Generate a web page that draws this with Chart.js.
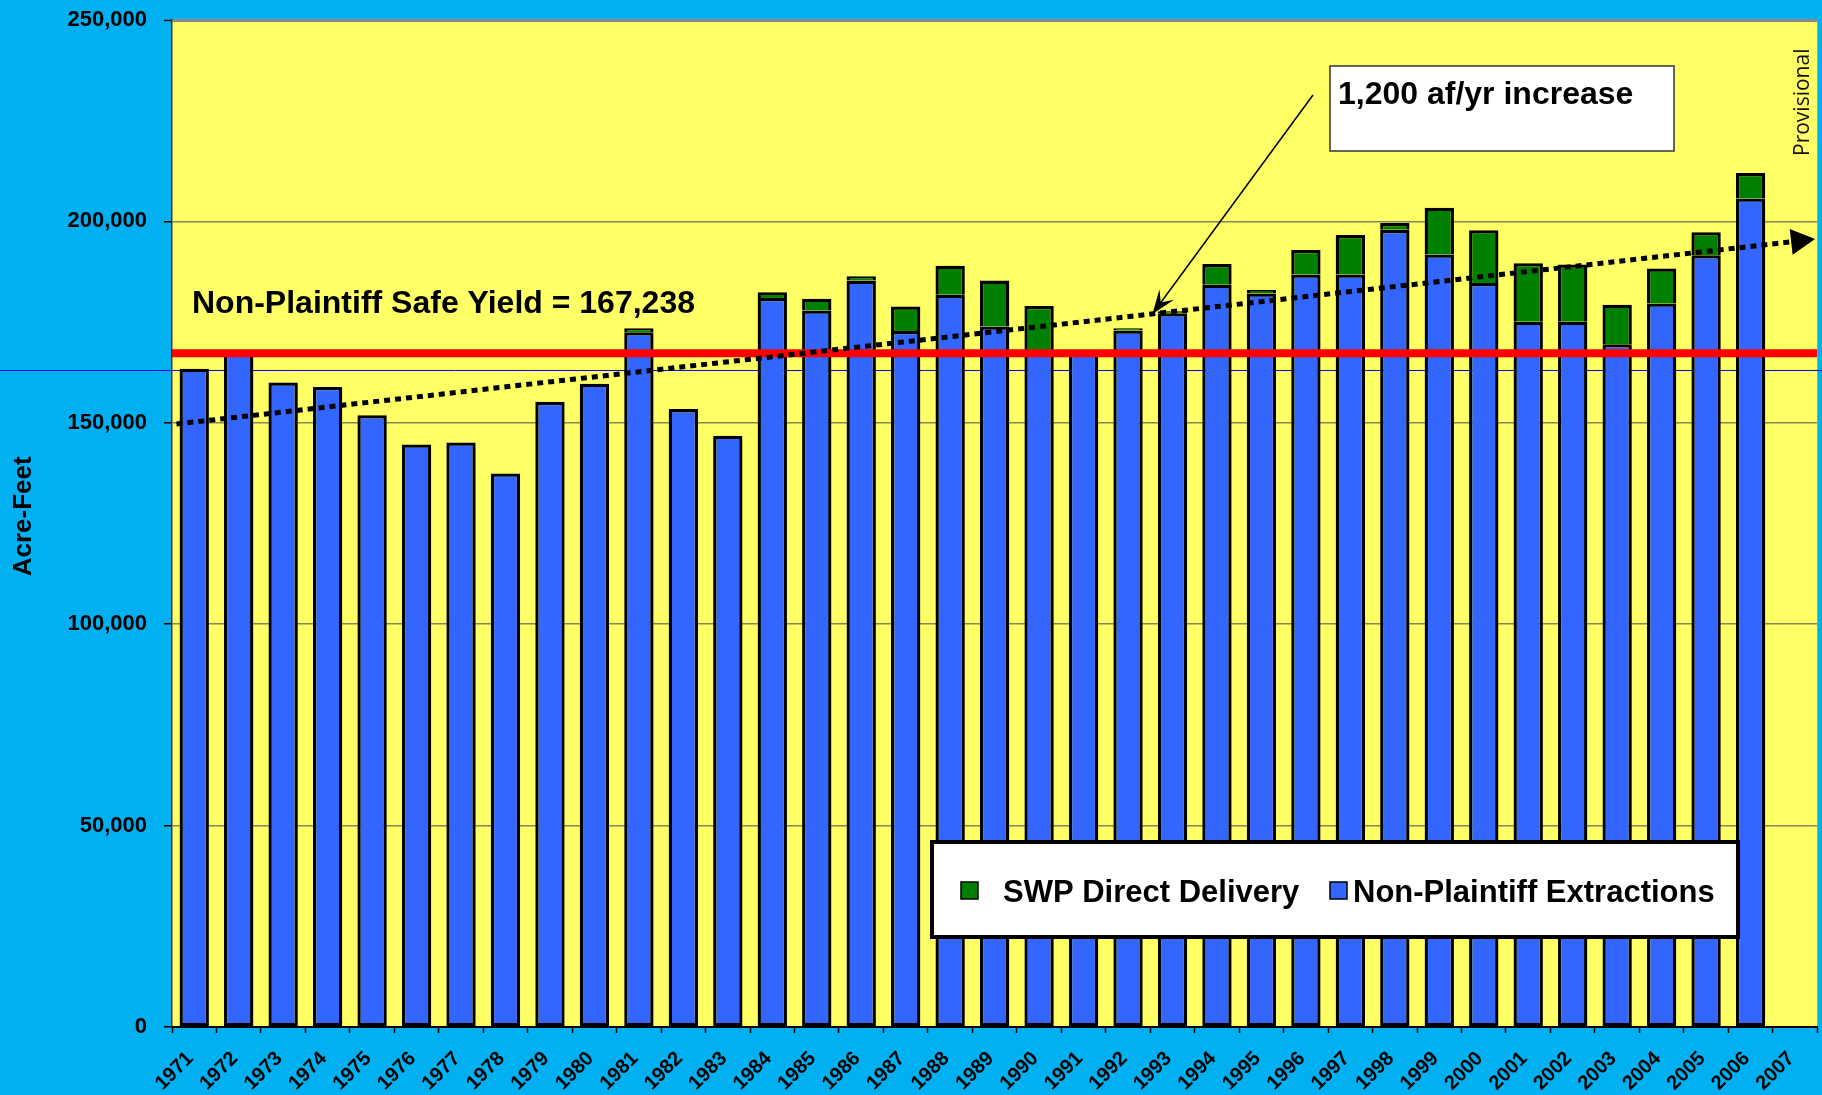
<!DOCTYPE html>
<html>
<head>
<meta charset="utf-8">
<title>Non-Plaintiff Extractions</title>
<script src="https://cdn.jsdelivr.net/npm/chart.js@4.4.1/dist/chart.umd.min.js"></script>
<style>
  html, body { margin: 0; padding: 0; background: #00b0f0; }
  #dataChart { display: block; }
</style>
</head>
<body>
<canvas id="dataChart" width="1822" height="1095"></canvas>
<script>
// Water years on the category axis
const years = [
  "1971", "1972", "1973", "1974", "1975", "1976", "1977", "1978", "1979", "1980",
  "1981", "1982", "1983", "1984", "1985", "1986", "1987", "1988", "1989", "1990",
  "1991", "1992", "1993", "1994", "1995", "1996", "1997", "1998", "1999", "2000",
  "2001", "2002", "2003", "2004", "2005", "2006", "2007",
];

// Non-Plaintiff extractions (acre-feet)
const extractions = [
  163400, 167700, 160000, 158900, 151900, 144600, 145100, 137400, 155200, 159700,
  172500, 153400, 146800, 181000, 177900, 185300, 172800, 181800, 173900, 167400,
  167800, 172900, 177200, 184300, 182100, 186800, 186800, 197900, 191800, 184700,
  175100, 175100, 169500, 179600, 191600, 205700, null,
];

// SWP direct delivery stacked on top (acre-feet)
const swpDelivery = [
  null, null, null, null, null, null, null, null, null, null,
  1000, null, null, 1400, 2900, 1100, 6100, 7200, 11400, 11600,
  null, 600, 500, 5100, 900, 6100, 9800, 1700, 11600, 13100,
  14500, 14200, 9800, 8700, 5700, 6300, null,
];

// y axis tick values
const yTickValues = [0, 50000, 100000, 150000, 200000, 250000];

// Safe yield level and the thin reference line just under it
const safeYield = 167238;
const referenceLevel = 163000;

// Trend line ends (category index, acre-feet)
const trendX = [-0.4, 36.45];
const trendY = [149700, 195600];

// Where on the trend the callout arrow points (category index)
const calloutIndex = 21.55;

const FONT = "'Liberation Sans', Arial, sans-serif";
const SKY = "#00b0f0";
const PLOT_BG = "#ffff66";
const BLUE = "#3366ff";
const GREEN = "#008000";
const RED = "#ff0000";

// Backgrounds, reference line, labels, callout and legend
const decorPlugin = {
  id: "decor",
  beforeDraw(chart) {
    const { ctx, chartArea: a } = chart;
    ctx.save();
    ctx.fillStyle = SKY;
    ctx.fillRect(0, 0, chart.width, chart.height);
    ctx.fillStyle = PLOT_BG;
    ctx.fillRect(a.left, a.top, a.right - a.left, a.bottom - a.top);
    ctx.restore();
  },
  beforeDatasetsDraw(chart) {
    const { ctx } = chart;
    const y = Math.round(chart.scales.y.getPixelForValue(referenceLevel)) + 0.5;
    ctx.save();
    ctx.strokeStyle = "#0000ff";
    ctx.lineWidth = 1;
    ctx.beginPath();
    ctx.moveTo(0, y);
    ctx.lineTo(chart.width, y);
    ctx.stroke();
    ctx.restore();
  },
  afterDatasetsDraw(chart) {
    const { ctx, chartArea: a } = chart;
    const xs = chart.scales.xLine;
    const ys = chart.scales.y;

    // arrowhead at the end of the trend line
    const p0 = { x: xs.getPixelForValue(trendX[0]), y: ys.getPixelForValue(trendY[0]) };
    const p1 = { x: xs.getPixelForValue(trendX[1]), y: ys.getPixelForValue(trendY[1]) };
    let dx = p1.x - p0.x, dy = p1.y - p0.y;
    let len = Math.hypot(dx, dy);
    let ux = dx / len, uy = dy / len;
    ctx.save();
    ctx.fillStyle = "#000";
    ctx.beginPath();
    ctx.moveTo(p1.x, p1.y);
    ctx.lineTo(p1.x - ux * 24 - uy * 13, p1.y - uy * 24 + ux * 13);
    ctx.lineTo(p1.x - ux * 24 + uy * 13, p1.y - uy * 24 - ux * 13);
    ctx.closePath();
    ctx.fill();

    // safe yield label
    ctx.fillStyle = "#000";
    ctx.font = "bold 32px " + FONT;
    ctx.textAlign = "left";
    ctx.textBaseline = "alphabetic";
    ctx.fillText("Non-Plaintiff Safe Yield = 167,238", a.left + 20, ys.getPixelForValue(safeYield) - 40);

    // callout box
    const box = { x: 1330, y: 66, w: 344, h: 85 };
    ctx.fillStyle = "#ffffff";
    ctx.fillRect(box.x, box.y, box.w, box.h);
    ctx.strokeStyle = "#333";
    ctx.lineWidth = 1.5;
    ctx.strokeRect(box.x, box.y, box.w, box.h);
    ctx.fillStyle = "#000";
    ctx.fillText("1,200 af/yr increase", box.x + 8, box.y + 38);

    // callout arrow to the trend line
    const t = (calloutIndex - trendX[0]) / (trendX[1] - trendX[0]);
    const tip = {
      x: xs.getPixelForValue(calloutIndex),
      y: ys.getPixelForValue(trendY[0] + t * (trendY[1] - trendY[0])),
    };
    const start = { x: box.x - 17, y: box.y + 29 };
    dx = tip.x - start.x; dy = tip.y - start.y;
    len = Math.hypot(dx, dy);
    ux = dx / len; uy = dy / len;
    ctx.strokeStyle = "#000";
    ctx.lineWidth = 1.5;
    ctx.beginPath();
    ctx.moveTo(start.x, start.y);
    ctx.lineTo(tip.x - ux * 12, tip.y - uy * 12);
    ctx.stroke();
    ctx.beginPath();
    ctx.moveTo(tip.x, tip.y);
    ctx.lineTo(tip.x - ux * 24 - uy * 9, tip.y - uy * 24 + ux * 9);
    ctx.lineTo(tip.x - ux * 14, tip.y - uy * 14);
    ctx.lineTo(tip.x - ux * 24 + uy * 9, tip.y - uy * 24 - ux * 9);
    ctx.closePath();
    ctx.fill();

    // legend
    const lg = { x: 932, y: 842, w: 806, h: 95 };
    ctx.fillStyle = "#ffffff";
    ctx.fillRect(lg.x, lg.y, lg.w, lg.h);
    ctx.strokeStyle = "#000";
    ctx.lineWidth = 4;
    ctx.strokeRect(lg.x, lg.y, lg.w, lg.h);
    const items = [
      { ds: chart.data.datasets[1], sx: 961, tx: 1003 },
      { ds: chart.data.datasets[0], sx: 1330, tx: 1353 },
    ];
    ctx.font = "bold 31px " + FONT;
    items.forEach((it) => {
      ctx.fillStyle = it.ds.backgroundColor;
      ctx.fillRect(it.sx, 882, 17, 17);
      ctx.strokeStyle = "#000";
      ctx.lineWidth = 1.5;
      ctx.strokeRect(it.sx, 882, 17, 17);
      ctx.fillStyle = "#000";
      ctx.fillText(it.ds.label, it.tx, 902);
    });

    // provisional note
    ctx.font = "21px 'Open Sans', sans-serif";
    ctx.fillStyle = "#111";
    ctx.translate(1809, 156);
    ctx.rotate(-Math.PI / 2);
    ctx.fillText("Provisional", 0, 0);
    ctx.restore();
  },
};

function initializeChart() {
  const ctx = document.getElementById("dataChart").getContext("2d");
  return new Chart(ctx, {
    type: "bar",
    data: {
      labels: years,
      datasets: [
        {
          label: "Non-Plaintiff Extractions",
          data: extractions,
          backgroundColor: BLUE,
          borderColor: "#000",
          borderWidth: 3.3,
          borderSkipped: false,
          stack: "total",
          grouped: false,
          order: 2,
          barPercentage: 0.66,
          categoryPercentage: 1,
        },
        {
          label: "SWP Direct Delivery",
          data: swpDelivery,
          backgroundColor: GREEN,
          borderColor: "#000",
          borderWidth: 3.3,
          borderSkipped: "bottom",
          stack: "total",
          grouped: false,
          order: 2,
          barPercentage: 0.66,
          categoryPercentage: 1,
        },
        {
          type: "line",
          label: "Safe Yield",
          data: [{ x: -0.5, y: safeYield }, { x: 36.5, y: safeYield }],
          xAxisID: "xLine",
          stack: "safe",
          borderColor: RED,
          borderWidth: 8,
          pointRadius: 0,
          order: 1,
        },
        {
          type: "line",
          label: "Trend",
          data: trendX.map((x, i) => ({ x: x, y: trendY[i] })),
          xAxisID: "xLine",
          stack: "trend",
          borderColor: "#000",
          borderWidth: 5,
          borderDash: [6, 5],
          pointRadius: 0,
          order: 0,
        },
      ],
    },
    options: {
      responsive: false,
      animation: false,
      layout: { padding: { top: 20, right: 0, bottom: 0, left: 0 } },
      plugins: {
        legend: { display: false },
        tooltip: { enabled: false },
      },
      scales: {
        x: {
          stacked: true,
          offset: true,
          grid: {
            display: true,
            offset: true,
            drawOnChartArea: false,
            drawTicks: true,
            tickLength: 6,
            tickColor: "#000",
            tickWidth: 1.5,
          },
          border: { display: true, color: "#000", width: 2 },
          ticks: {
            autoSkip: false,
            minRotation: 45,
            maxRotation: 45,
            padding: 10,
            color: "#000",
            font: { family: FONT, size: 20, weight: "bold" },
            // trailing space nudges the rotated year back toward its bar
            callback(value) {
              return this.getLabelForValue(value) + " ";
            },
          },
          afterFit(scale) {
            scale.height = 68;
          },
        },
        xLine: {
          type: "linear",
          min: -0.5,
          max: 36.5,
          offset: false,
          display: false,
        },
        y: {
          stacked: true,
          min: 0,
          max: 250000,
          afterBuildTicks(scale) {
            scale.ticks = yTickValues.map((v) => ({ value: v }));
          },
          ticks: {
            padding: 17,
            color: "#000",
            font: { family: FONT, size: 22, weight: "bold" },
            callback: (v) => Number(v).toLocaleString("en-US"),
          },
          grid: {
            color: (c) => (c.tick && c.tick.value === 250000 ? "#8a8a8a" : "#86865c"),
            lineWidth: (c) => (c.tick && c.tick.value === 250000 ? 3 : 1.5),
            tickLength: 8,
            tickColor: "#000",
            tickWidth: 1.5,
          },
          border: { display: true, color: "#333", width: 1.5 },
          title: {
            display: true,
            // leading spaces lift the rotated title a little above centre
            text: "  Acre-Feet",
            color: "#000",
            font: { family: FONT, size: 26, weight: "bold" },
            padding: { top: 8, bottom: 0 },
          },
          afterFit(scale) {
            scale.width = 172;
            // the label padding should not push the plot area down
            scale.paddingTop = 0;
            scale.paddingBottom = 0;
          },
        },
      },
    },
    plugins: [decorPlugin],
  });
}

window.onload = function () {
  initializeChart();
};
</script>
</body>
</html>
